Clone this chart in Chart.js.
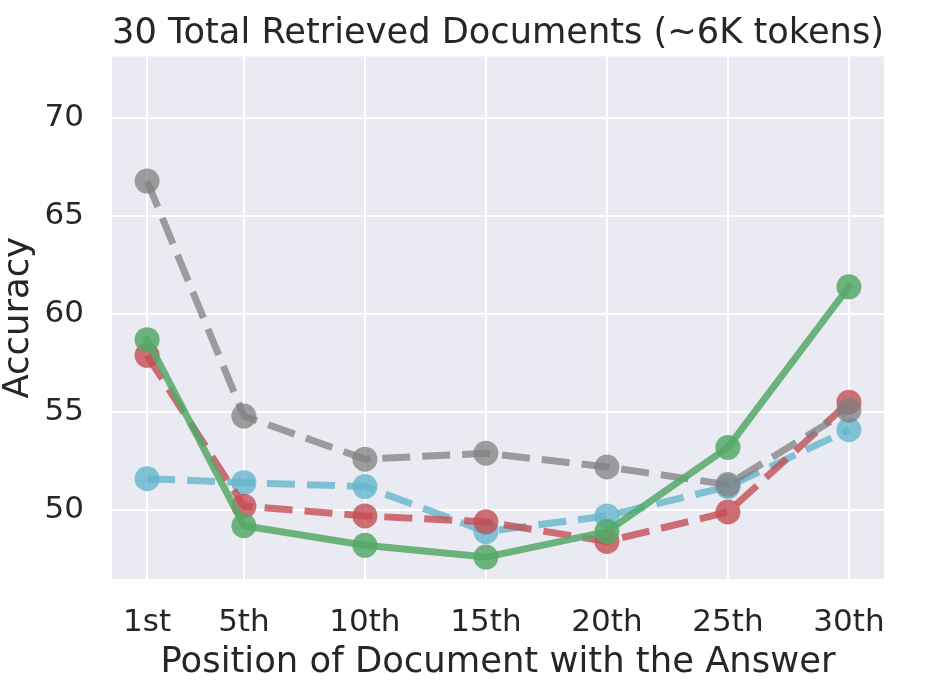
<!DOCTYPE html>
<html>
<head>
<meta charset="utf-8">
<script src="https://cdn.jsdelivr.net/npm/chart.js@4"></script>
<style>
    html, body { margin: 0; padding: 0; background: #ffffff; }
    #wrap { width: 934px; height: 690px; }
</style>
</head>
<body>
<div id="wrap"><canvas id="chart" width="934" height="690"></canvas></div>
<script>
// Data
const positions = [1, 5, 10, 15, 20, 25, 30];
const positionLabels = ['1st', '5th', '10th', '15th', '20th', '25th', '30th'];
const yTicks = [50, 55, 60, 65, 70];

const greenSeries = [58.7, 49.2, 48.2, 47.6, 48.9, 53.2, 61.4];
const graySeries = [66.8, 54.8, 52.6, 52.9, 52.2, 51.3, 55.1];
const redSeries = [57.9, 50.2, 49.7, 49.4, 48.4, 49.9, 55.5];
const blueSeries = [51.6, 51.4, 51.2, 48.9, 49.7, 51.2, 54.1];

const FONT = "'DejaVu Sans', sans-serif";
const TEXT = '#262626';

function toPoints(values) {
    return values.map((v, i) => ({ x: positions[i], y: v }));
}

function makeSeries(values, color, dashed) {
    return {
        data: toPoints(values),
        borderColor: color,
        backgroundColor: color,
        pointBackgroundColor: color,
        pointBorderWidth: 0,
        pointRadius: 12.5,
        pointHoverRadius: 12.5,
        borderWidth: 7,
        borderDash: dashed ? [28, 12] : [],
        borderCapStyle: dashed ? 'butt' : 'square',
        borderJoinStyle: 'round',
        tension: 0,
        fill: false
    };
}

// plot background (seaborn darkgrid)
const plotBackground = {
    id: 'plotBackground',
    beforeDraw(chart) {
        const { ctx, chartArea } = chart;
        ctx.save();
        ctx.fillStyle = '#EAEAF2';
        ctx.fillRect(chartArea.left, chartArea.top, chartArea.right - chartArea.left, chartArea.bottom - chartArea.top);
        ctx.restore();
    }
};

// first dataset ends up on top
const datasets = [
    makeSeries(greenSeries, 'rgba(85, 168, 104, 0.85)', false),
    makeSeries(graySeries, 'rgba(128, 128, 128, 0.75)', true),
    makeSeries(redSeries, 'rgba(196, 78, 82, 0.8)', true),
    makeSeries(blueSeries, 'rgba(100, 181, 205, 0.8)', true)
];

new Chart(document.getElementById('chart'), {
    type: 'line',
    data: { datasets: datasets },
    options: {
        responsive: false,
        animation: false,
        events: [],
        layout: { padding: { left: 0, right: 50, top: 0, bottom: 0 } },
        plugins: {
            legend: { display: false },
            tooltip: { enabled: false },
            title: {
                display: true,
                text: '30 Total Retrieved Documents (~6K tokens)',
                color: TEXT,
                fullSize: false,
                font: { family: FONT, size: 35.4, weight: 'normal', lineHeight: 1.2 },
                padding: { top: 13, bottom: 1 }
            }
        },
        scales: {
            x: {
                type: 'linear',
                min: -0.45,
                max: 31.45,
                afterBuildTicks: (scale) => {
                    scale.ticks = positions.map(v => ({ value: v }));
                },
                afterFit: (scale) => { scale.height = 111; },
                ticks: {
                    color: TEXT,
                    font: { family: FONT, size: 31 },
                    padding: 25,
                    autoSkip: false,
                    maxRotation: 0,
                    callback: (value) => {
                        const i = positions.indexOf(value);
                        return i >= 0 ? positionLabels[i] : '';
                    }
                },
                grid: { color: '#ffffff', lineWidth: 2, drawTicks: false },
                border: { display: false },
                title: {
                    display: true,
                    text: 'Position of Document with the Answer',
                    color: TEXT,
                    font: { family: FONT, size: 35.4, lineHeight: 1.2 },
                    padding: { top: 0, bottom: 6 }
                }
            },
            y: {
                type: 'linear',
                min: 46.48,
                max: 73.16,
                afterBuildTicks: (scale) => {
                    scale.ticks = yTicks.map(v => ({ value: v }));
                },
                afterFit: (scale) => { scale.width = 112; },
                ticks: {
                    color: TEXT,
                    font: { family: FONT, size: 31 },
                    padding: 28
                },
                grid: { color: '#ffffff', lineWidth: 2, drawTicks: false },
                border: { display: false },
                title: {
                    display: true,
                    text: 'Accuracy',
                    color: TEXT,
                    font: { family: FONT, size: 35.4, lineHeight: 1 },
                    padding: { top: 1, bottom: 0 }
                }
            }
        }
    },
    plugins: [plotBackground]
});
</script>
</body>
</html>
